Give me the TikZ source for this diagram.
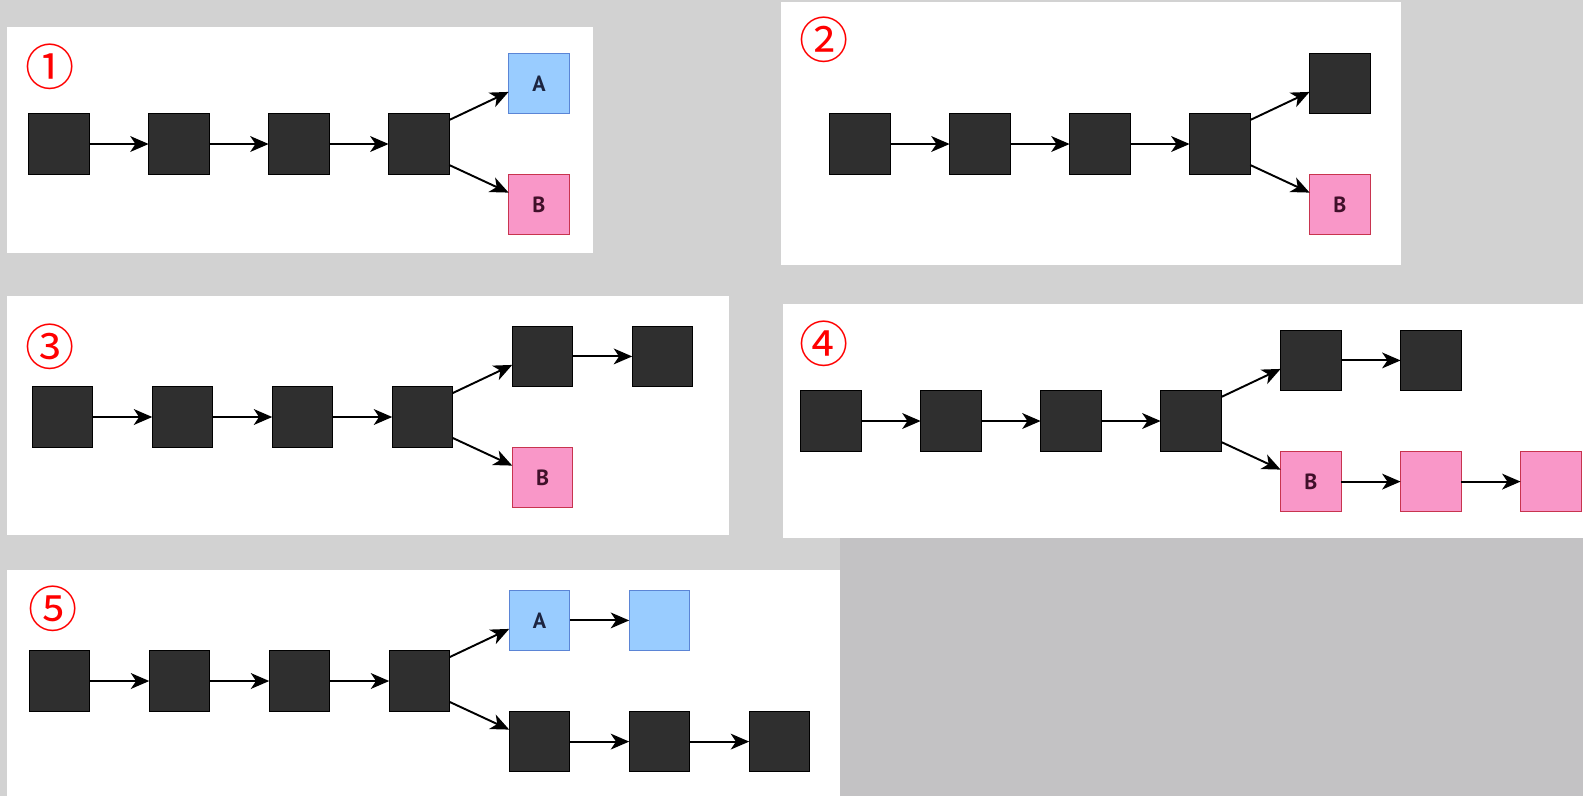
\documentclass[tikz,border=0pt]{standalone}
\usepackage{fontspec}
\newfontfamily\circfont{Noto Sans CJK JP}
\newfontfamily\boxfont{PT Sans}
\usetikzlibrary{
  arrows.meta,
  positioning
}
\definecolor{backgray}{HTML}{D2D2D2}
\definecolor{lowgray}{HTML}{C3C2C4}
\definecolor{blockgray}{HTML}{2F2F2F}
\definecolor{afill}{HTML}{99CCFF}
\definecolor{adraw}{HTML}{5B85D6}
\definecolor{atext}{HTML}{1C2440}
\definecolor{bfill}{HTML}{F997C8}
\definecolor{bdraw}{HTML}{C8344F}
\definecolor{btext}{HTML}{40102A}
\tikzset{
  % White card behind each chain.
  panel/.style={
    fill=white,
    draw=none},
%
  % For the red circled step numbers.
  tag/.style={
    text=red,
    inner sep=0pt,
    font=\circfont\fontsize{28pt}{28pt}\selectfont},
%
  % For plain blocks.
  block/.style={
    draw=black,
    fill=blockgray,
    line width=0.6pt,
    minimum size=1.212cm,
    inner sep=0pt,
    outer sep=0pt},
%
  % For blocks of branch A.
  block a/.style={
    block,
    draw=adraw,
    fill=afill,
    text=atext,
    font=\boxfont\bfseries\fontsize{12.5pt}{13pt}\selectfont},
%
  % For blocks of branch B.
  block b/.style={
    block,
    draw=bdraw,
    fill=bfill,
    text=btext,
    font=\boxfont\bfseries\fontsize{12.5pt}{13pt}\selectfont},
%
  % For the links between blocks.
  link/.style={
    line width=1.1pt,
    -{Stealth[length=10.5pt,width=9pt,inset=3pt]}}
}

\begin{document}
\begin{tikzpicture}[x=0.02cm, y=-0.02cm, node distance=1.188cm]
  % Backdrop.
  \fill[backgray] (0,0) rectangle (1583,796);
  \fill[lowgray] (840,538) rectangle (1583,796);
  \useasboundingbox (0,0) rectangle (1583,796);

  % White cards.
  \fill[panel] (7,27) rectangle (593,253);
  \fill[panel] (781,2) rectangle (1401,265);
  \fill[panel] (7,296) rectangle (729,535);
  \fill[panel] (783,304) rectangle (1583,538);
  \fill[panel] (7,570) rectangle (840,796);

  % Step numbers.
  \node[tag] (tag1) at (50,67) {①};
  \node[tag] (tag2) at (824,40) {②};
  \node[tag] (tag3) at (50,347) {③};
  \node[tag] (tag4) at (824,344) {④};
  \node[tag] (tag5) at (52.7,609) {⑤};

  % Common trunk of four blocks in every card; the nodes are named
  % 'p1t1', ..., 'p1t4', 'p2t1', etc.
  \foreach \p/\x/\y in {1/59/144, 2/860/144, 3/62.6/417, 4/831/421,
                        5/59.6/681}
    {\node[block] (p\p t1) at (\x,\y) {};
     \foreach \i [remember=\i as \lasti (initially 1)] in {2,3,4}
       {\node[block, right=of p\p t\lasti] (p\p t\i) {};
        \draw[link] (p\p t\lasti) -- (p\p t\i);}
    }

  % Card 1: fork into A and B.
  \node[block a, above right=0pt and 1.188cm of p1t4] (p1up) {A};
  \node[block b, below right=0pt and 1.188cm of p1t4] (p1dn) {B};
  \draw[link] ([yshift=0.48cm]p1t4.east) -- ([yshift=-0.17cm]p1up.west);
  \draw[link] ([yshift=-0.42cm]p1t4.east) -- ([yshift=0.24cm]p1dn.west);

  % Card 2: upper block without a tag.
  \node[block, above right=0pt and 1.188cm of p2t4] (p2up) {};
  \node[block b, below right=0pt and 1.188cm of p2t4] (p2dn) {B};
  \draw[link] ([yshift=0.48cm]p2t4.east) -- ([yshift=-0.17cm]p2up.west);
  \draw[link] ([yshift=-0.42cm]p2t4.east) -- ([yshift=0.24cm]p2dn.west);

  % Card 3: upper branch grows by one.
  \node[block, above right=0pt and 1.188cm of p3t4] (p3up1) {};
  \node[block, right=of p3up1] (p3up2) {};
  \node[block b, below right=0pt and 1.188cm of p3t4] (p3dn) {B};
  \draw[link] ([yshift=0.48cm]p3t4.east) -- ([yshift=-0.17cm]p3up1.west);
  \draw[link] (p3up1) -- (p3up2);
  \draw[link] ([yshift=-0.42cm]p3t4.east) -- ([yshift=0.24cm]p3dn.west);

  % Card 4: lower branch overtakes.
  \node[block, above right=0pt and 1.188cm of p4t4] (p4up1) {};
  \node[block, right=of p4up1] (p4up2) {};
  \node[block b, below right=0pt and 1.188cm of p4t4] (p4dn1) {B};
  \node[block b, right=of p4dn1] (p4dn2) {};
  \node[block b, right=of p4dn2] (p4dn3) {};
  \draw[link] ([yshift=0.48cm]p4t4.east) -- ([yshift=-0.17cm]p4up1.west);
  \draw[link] (p4up1) -- (p4up2);
  \draw[link] ([yshift=-0.42cm]p4t4.east) -- ([yshift=0.24cm]p4dn1.west);
  \draw[link] (p4dn1) -- (p4dn2);
  \draw[link] (p4dn2) -- (p4dn3);

  % Card 5: A branch and a longer plain branch.
  \node[block a, above right=0pt and 1.188cm of p5t4] (p5up1) {A};
  \node[block a, right=of p5up1] (p5up2) {};
  \node[block, below right=0pt and 1.188cm of p5t4] (p5dn1) {};
  \node[block, right=of p5dn1] (p5dn2) {};
  \node[block, right=of p5dn2] (p5dn3) {};
  \draw[link] ([yshift=0.48cm]p5t4.east) -- ([yshift=-0.17cm]p5up1.west);
  \draw[link] (p5up1) -- (p5up2);
  \draw[link] ([yshift=-0.42cm]p5t4.east) -- ([yshift=0.24cm]p5dn1.west);
  \draw[link] (p5dn1) -- (p5dn2);
  \draw[link] (p5dn2) -- (p5dn3);
\end{tikzpicture}
\end{document}
